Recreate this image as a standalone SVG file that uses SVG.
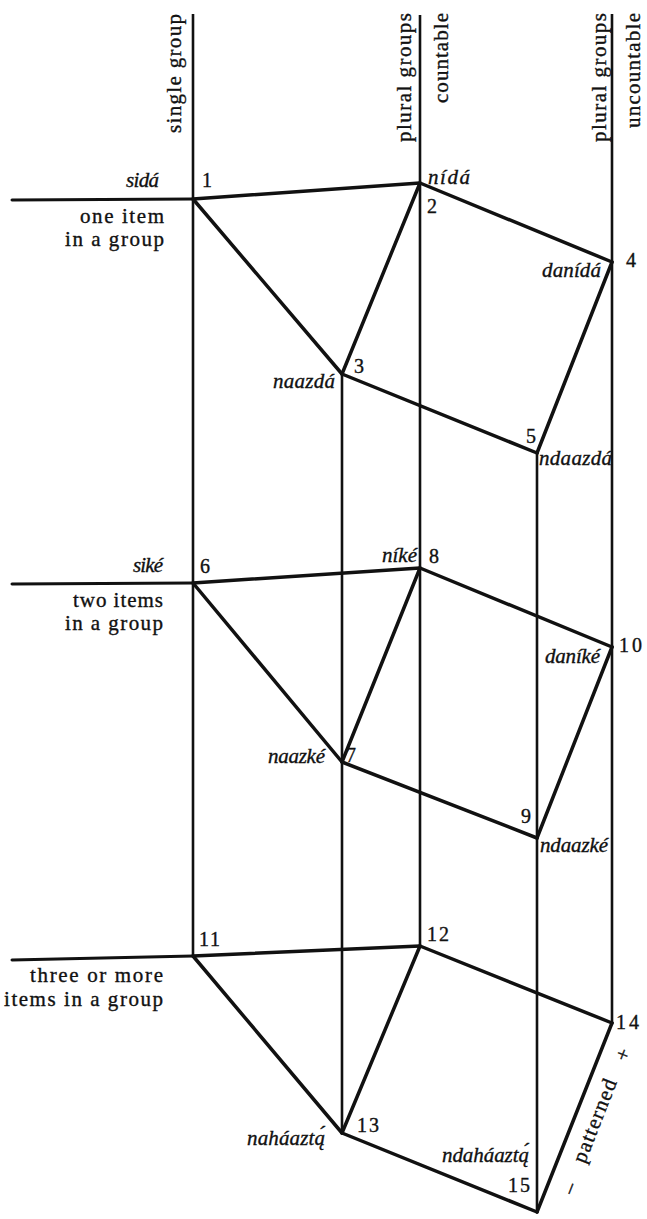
<svg xmlns="http://www.w3.org/2000/svg" width="647" height="1219" viewBox="0 0 647 1219">
<style>
.ax{stroke:#111;stroke-width:2.6;fill:none}
.hl{stroke:#111;stroke-width:3;fill:none;stroke-linecap:round}
.ed{stroke:#111;stroke-width:3.5;fill:none;stroke-linecap:round}
text{fill:#111;stroke:#111;stroke-width:0.35;font-family:"Liberation Serif","Times New Roman",serif}
.num{font-size:20px}
.w{font-size:21px;font-style:italic}
.lab{font-size:21px}
.ttl{font-size:21px}
</style>
<rect width="647" height="1219" fill="#fff"/>
<g id="connectors">
  <line class="ax" x1="193" y1="14" x2="193" y2="956"/>
  <line class="ax" x1="420" y1="15" x2="420" y2="946"/>
  <line class="ax" x1="612" y1="14" x2="612" y2="1023"/>
  <line class="ax" x1="342" y1="374" x2="342" y2="1133"/>
  <line class="ax" x1="537" y1="453" x2="537" y2="1212"/>
  <line class="hl" x1="12" y1="200" x2="193" y2="199"/>
  <line class="hl" x1="12" y1="584" x2="193" y2="583"/>
  <line class="hl" x1="12" y1="960" x2="193" y2="956"/>
  <line class="ed" x1="193" y1="199" x2="420" y2="183"/>
  <line class="ed" x1="193" y1="199" x2="342" y2="374"/>
  <line class="ed" x1="420" y1="183" x2="342" y2="374"/>
  <line class="ed" x1="420" y1="183" x2="612" y2="262"/>
  <line class="ed" x1="342" y1="374" x2="537" y2="453"/>
  <line class="ed" x1="612" y1="262" x2="537" y2="453"/>
  <line class="ed" x1="193" y1="583" x2="420" y2="568"/>
  <line class="ed" x1="193" y1="583" x2="342" y2="762"/>
  <line class="ed" x1="420" y1="568" x2="342" y2="762"/>
  <line class="ed" x1="420" y1="568" x2="612" y2="647"/>
  <line class="ed" x1="342" y1="762" x2="537" y2="838"/>
  <line class="ed" x1="612" y1="647" x2="537" y2="838"/>
  <line class="ed" x1="193" y1="956" x2="420" y2="946"/>
  <line class="ed" x1="193" y1="956" x2="342" y2="1133"/>
  <line class="ed" x1="420" y1="946" x2="342" y2="1133"/>
  <line class="ed" x1="420" y1="946" x2="612" y2="1023"/>
  <line class="ed" x1="342" y1="1133" x2="537" y2="1212"/>
  <line class="ed" x1="612" y1="1023" x2="537" y2="1212"/>
</g>
<g id="axis-labels">
  <text class="ttl" transform="translate(181,133) rotate(-90)" textLength="119">single group</text>
  <text class="ttl" transform="translate(411,142) rotate(-90)" textLength="129">plural groups</text>
  <text class="ttl" transform="translate(448,103) rotate(-90)" textLength="90">countable</text>
  <text class="ttl" transform="translate(606,142) rotate(-90)" textLength="129">plural groups</text>
  <text class="ttl" transform="translate(640,128) rotate(-90)" textLength="115">uncountable</text>
</g>
<g id="row-one">
  <text class="lab" x="164" y="223" text-anchor="end" textLength="84">one item</text>
  <text class="lab" x="164" y="246" text-anchor="end" textLength="99">in a group</text>
</g>
<g id="row-two">
  <text class="lab" x="163" y="607" text-anchor="end" textLength="90">two items</text>
  <text class="lab" x="163" y="630" text-anchor="end" textLength="98">in a group</text>
</g>
<g id="row-three">
  <text class="lab" x="163" y="982" text-anchor="end" textLength="133">three or more</text>
  <text class="lab" x="163" y="1006" text-anchor="end" textLength="159">items in a group</text>
</g>
<g id="node1"><text class="num" x="202" y="187">1</text><text class="w" x="159" y="187" text-anchor="end" textLength="33">sidá</text></g>
<g id="node2"><text class="num" x="427" y="213">2</text><text class="w" x="428" y="184" textLength="42">nídá</text></g>
<g id="node3"><text class="num" x="354" y="373">3</text><text class="w" x="273" y="388" textLength="62">naazdá</text></g>
<g id="node4"><text class="num" x="626" y="267">4</text><text class="w" x="542" y="277" textLength="59">danídá</text></g>
<g id="node5"><text class="num" x="526" y="443">5</text><text class="w" x="539" y="465" textLength="73">ndaazdá</text></g>
<g id="node6"><text class="num" x="200" y="573">6</text><text class="w" x="133" y="572" textLength="30">siké</text></g>
<g id="node7"><text class="num" x="346" y="762">7</text><text class="w" x="268" y="763" textLength="57">naazké</text></g>
<g id="node8"><text class="num" x="429" y="563">8</text><text class="w" x="382" y="562" textLength="35">níké</text></g>
<g id="node9"><text class="num" x="521" y="823">9</text><text class="w" x="540" y="852" textLength="68">ndaazké</text></g>
<g id="node10"><text class="num" x="619" y="652" textLength="23">10</text><text class="w" x="545" y="663" textLength="55">daníké</text></g>
<g id="node11"><text class="num" x="199" y="946" textLength="21">11</text></g>
<g id="node12"><text class="num" x="427" y="941" textLength="22">12</text></g>
<g id="node13"><text class="num" x="357" y="1132" textLength="22">13</text><text class="w" x="247" y="1145" textLength="78">naháaztą́</text></g>
<g id="node14"><text class="num" x="616" y="1029" textLength="23">14</text></g>
<g id="node15"><text class="num" x="508" y="1192" textLength="22">15</text><text class="w" x="442" y="1162" textLength="87">ndaháaztą́</text></g>
<g id="patterned-label" transform="translate(537,1212) rotate(-68.5)">
  <text class="ttl" x="34" y="28" text-anchor="middle">–</text>
  <text class="ttl" x="106" y="27" text-anchor="middle" textLength="88">patterned</text>
  <text class="ttl" x="178" y="29" text-anchor="middle">+</text>
</g>
</svg>
